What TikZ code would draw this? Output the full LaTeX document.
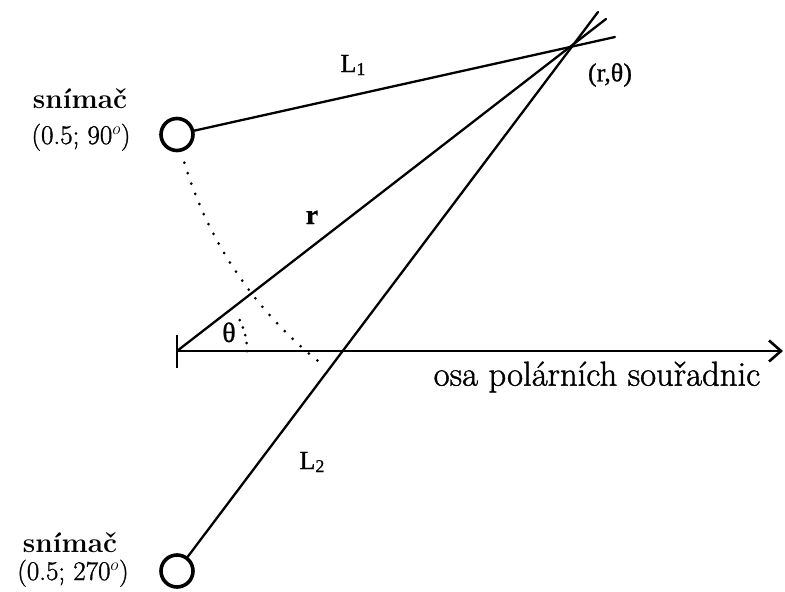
\documentclass[tikz,border=0pt]{standalone}
\usepackage{fontspec}
\newfontfamily\tms[FakeBold=0.8]{Liberation Serif}
\newfontfamily\pal[FakeBold=1.2]{Latin Modern Roman}
\usetikzlibrary{arrows.meta}
\begin{document}
\begin{tikzpicture}[x=1pt,y=-1pt,
  sensor/.style={circle,draw,line width=3.6pt,minimum size=32pt,inner sep=0pt},
  ray/.style={line width=2.3pt,line cap=round},
  dots/.style={line width=3pt,line cap=round,dash pattern=on 0pt off 11pt},
  smalldots/.style={line width=3pt,line cap=round,dash pattern=on 0pt off 8pt},
  big/.style={font=\pal\fontsize{34.7}{38}\selectfont,inner sep=0pt},
  sens/.style={font=\fontsize{28}{32}\selectfont\bfseries,inner sep=0pt,anchor=base},
  coord/.style={font=\pal\fontsize{27}{30}\selectfont,inner sep=0pt,anchor=base},
  tlabel/.style={font=\tms\fontsize{26}{28}\selectfont,inner sep=0pt}
]
\useasboundingbox (0,0) rectangle (785,592);
% key points
\coordinate (O) at (177,351);
\coordinate (P) at (570,47);
\coordinate (A) at (783,351);
\coordinate (e1) at (615,37);
\coordinate (er) at (606,19);
\coordinate (e2) at (598,12);
\coordinate (t1) at (177,335);
\coordinate (t2) at (177,368);
% sensors
\node[sensor] (s1) at (177,134.5) {};
\node[sensor] (s2) at (177,571) {};
% axis
\draw[line width=2.6pt,-{Straight Barb[length=12pt,width=21pt]}] (O) -- (A);
\draw[line width=2.3pt] (t1) -- (t2);
% lines
\draw[ray] (s1) -- (e1);
\draw[ray] (O) -- (er);
\draw[ray] (s2) -- (e2);
% dotted arcs
\draw[dots] plot[domain=196.7:231.4,samples=60] ({570+402.6*cos(\x)},{47-402.6*sin(\x)});
\draw[smalldots] plot[domain=0:29,samples=30] ({177+70*cos(\x)},{351-70*sin(\x)});
% labels
\node[sens] (n1) at (80,108) {snímač};
\node[coord] (c1) at (81,144) {(0.5; 90$^{o}$)};
\node[sens] (n2) at (70,552) {snímač};
\node[coord] (c2) at (73,580) {(0.5; 270$^{o}$)};
\node[big] (axl) at (597,377) {osa polárních souřadnic};
\node[tlabel] (pl) at (610,75) {(r,θ)};
\node[tlabel] (l1) at (353,65) {L\raisebox{-3pt}{\fontsize{18}{18}\selectfont 1}};
\node[tlabel] (l2) at (312,462) {L\raisebox{-3pt}{\fontsize{18}{18}\selectfont 2}};
\node[tlabel,font=\tms\fontsize{28}{30}\selectfont\bfseries,anchor=base] (rl) at (312,224) {r};
\node[tlabel,font=\tms\fontsize{28}{30}\selectfont,anchor=base] (th) at (229,342) {θ};
\end{tikzpicture}
\end{document}
